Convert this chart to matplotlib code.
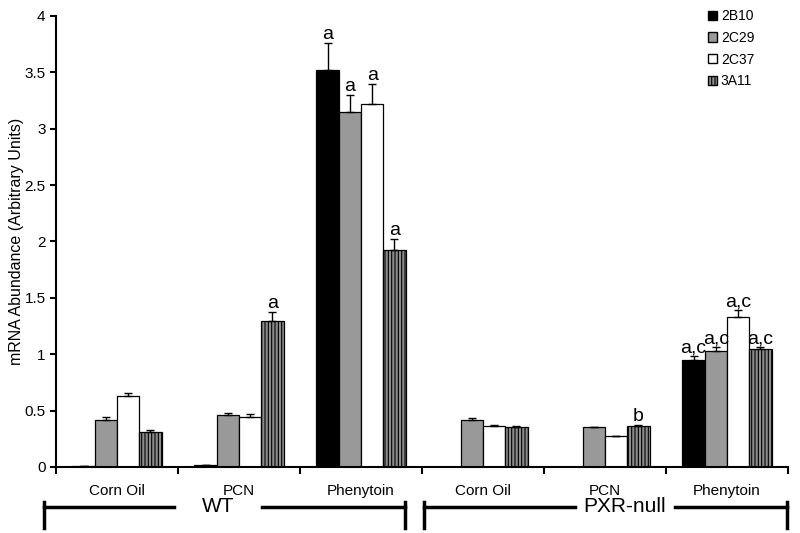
import matplotlib.pyplot as plt
import matplotlib.transforms as mtransforms
from matplotlib.patches import Patch
import numpy as np

plt.rcParams["font.family"] = ["Liberation Sans", "DejaVu Sans"]
plt.rcParams["hatch.linewidth"] = 0.8

groups = ["Corn Oil", "PCN", "Phenytoin", "Corn Oil", "PCN", "Phenytoin"]
genes = ["2B10", "2C29", "2C37", "3A11"]

# mean values per gene, across the six groups
v_2b10 = [0.005, 0.02, 3.52, 0.003, 0.003, 0.95]
v_2c29 = [0.42, 0.46, 3.15, 0.42, 0.35, 1.03]
v_2c37 = [0.63, 0.44, 3.22, 0.36, 0.27, 1.33]
v_3a11 = [0.31, 1.29, 1.92, 0.35, 0.36, 1.05]

e_2b10 = [0.0, 0.0, 0.24, 0.0, 0.0, 0.03]
e_2c29 = [0.02, 0.02, 0.15, 0.01, 0.005, 0.03]
e_2c37 = [0.03, 0.03, 0.18, 0.015, 0.005, 0.06]
e_3a11 = [0.02, 0.08, 0.10, 0.01, 0.015, 0.01]

s_2b10 = ["", "", "a", "", "", "a,c"]
s_2c29 = ["", "", "a", "", "", "a,c"]
s_2c37 = ["", "", "a", "", "", "a,c"]
s_3a11 = ["", "a", "a", "", "b", "a,c"]

values = [v_2b10, v_2c29, v_2c37, v_3a11]
errors = [e_2b10, e_2c29, e_2c37, e_3a11]
signs = [s_2b10, s_2c29, s_2c37, s_3a11]
faces = ["black", "#999999", "white", "#8c8c8c"]
hatches = [None, None, None, "|||||"]

fig = plt.figure(figsize=(8, 5.33), dpi=100)
ax = fig.add_axes([0.07, 0.124, 0.915, 0.846])

x = np.arange(len(groups))
w = 0.183
for i in range(4):
    pos = x + (i - 1.5) * w
    ax.bar(pos, values[i], w, color=faces[i], edgecolor="black", linewidth=0.9,
           hatch=hatches[i], zorder=2)
    ax.errorbar(pos, values[i], yerr=[np.zeros(len(x)), errors[i]], fmt="none",
                ecolor="black", elinewidth=1, capsize=3, capthick=1, zorder=3)
    for p, v, e, s in zip(pos, values[i], errors[i], signs[i]):
        if s:
            ax.text(p, v + e, s, ha="center", va="bottom", fontsize=14)

ax.set_xlim(-0.5, 5.5)
ax.set_ylim(0, 4)
ax.set_yticks([0, 0.5, 1, 1.5, 2, 2.5, 3, 3.5, 4])
ax.set_yticklabels(["0", "0.5", "1", "1.5", "2", "2.5", "3", "3.5", "4"])
ax.set_xticks(np.arange(-0.5, 6, 1))
ax.set_xticklabels([])
ax.set_xticks(x, minor=True)
ax.set_xticklabels(groups, minor=True, fontsize=11)
ax.tick_params(axis="x", which="minor", length=0, pad=12)
ax.tick_params(axis="x", which="major", length=5, width=1.5, direction="out")
ax.tick_params(axis="y", length=4, width=1.5, labelsize=11)
ax.spines["top"].set_visible(False)
ax.spines["right"].set_visible(False)
ax.spines["left"].set_linewidth(1.5)
ax.spines["bottom"].set_linewidth(1.5)
ax.set_ylabel("mRNA Abundance (Arbitrary Units)", fontsize=11.5, labelpad=0)

# genotype brackets below the axis
tr = mtransforms.blended_transform_factory(ax.transData, fig.transFigure)
y_line, y_lo, y_hi = 0.049, 0.009, 0.059
brackets = [("WT", -0.6, 2.36, 0.47, 1.19), ("PXR-null", 2.52, 5.49, 3.75, 4.57)]
for name, left, right, g0, g1 in brackets:
    ax.plot([left, g0], [y_line, y_line], color="black", lw=2.5, transform=tr, clip_on=False)
    ax.plot([g1, right], [y_line, y_line], color="black", lw=2.5, transform=tr, clip_on=False)
    ax.plot([left, left], [y_lo, y_hi], color="black", lw=2.5, transform=tr, clip_on=False)
    ax.plot([right, right], [y_lo, y_hi], color="black", lw=2.5, transform=tr, clip_on=False)
    ax.text((g0 + g1) / 2, y_line, name, ha="center", va="center", fontsize=15, transform=tr)

handles = [Patch(facecolor=faces[i], edgecolor="black", hatch=hatches[i], label=genes[i])
           for i in range(4)]
fig.legend(handles=handles, loc="upper left", bbox_to_anchor=(0.869, 1.006), frameon=False,
           fontsize=10, handlelength=0.65, handleheight=0.65, handletextpad=0.3,
           labelspacing=0.55)

plt.savefig("out.png", dpi=100)
